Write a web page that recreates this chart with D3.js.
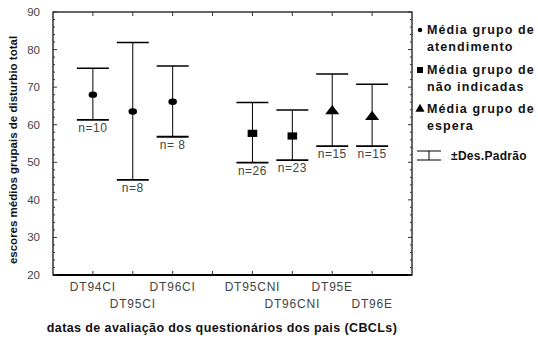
<!DOCTYPE html>
<html>
<head>
<meta charset="utf-8">
<script src="https://cdn.jsdelivr.net/npm/d3@7"></script>
<style>
  body { margin: 0; background: #fff; }
  text { font-family: Arial, "Liberation Sans", sans-serif; }
</style>
</head>
<body>
<div id="chart"></div>
<script>
// categories on the x axis (one empty slot between the CI and CNI groups)
var categories = ["DT94CI", "DT95CI", "DT96CI", "", "DT95CNI", "DT96CNI", "DT95E", "DT96E"]
var barCats = ["DT94CI", "DT95CI", "DT96CI", "DT95CNI", "DT96CNI", "DT95E", "DT96E"]
var means = [68.0, 63.5, 66.1, 57.7, 57.0, 63.6, 62.1]
var upper = [75.0, 81.9, 75.6, 65.9, 63.9, 73.5, 70.8]
var lower = [61.3, 45.3, 56.8, 49.9, 50.6, 54.3, 54.3]
var nLabels = ["n=10", "n=8", "n= 8", "n=26", "n=23", "n=15", "n=15"]
var shapes = ["circle", "circle", "circle", "square", "square", "triangle", "triangle"]
var yTicks = [20, 30, 40, 50, 60, 70, 80, 90]

var width = 538, height = 340
var pLeft = 53, pRight = 412, pTop = 12, pBottom = 275

var svg = d3.select("#chart").append("svg")
    .attr("width", width)
    .attr("height", height)

var x = d3.scalePoint().domain(categories).range([pLeft, pRight]).padding(1)
var y = d3.scaleLinear().domain([20, 90]).range([pBottom, pTop])

// frame
svg.append("rect")
    .attr("x", pLeft).attr("y", pTop)
    .attr("width", pRight - pLeft).attr("height", pBottom - pTop)
    .attr("fill", "none").attr("stroke", "#000").attr("stroke-width", 1.2)
svg.append("line")
    .attr("x1", pLeft).attr("x2", pRight).attr("y1", pBottom).attr("y2", pBottom)
    .attr("stroke", "#000").attr("stroke-width", 2)

// y ticks, inward on both sides, minor every 2
var minor = d3.range(20, 91, 2)
minor.forEach(function (v) {
    var len = (v % 10 === 0) ? 4 : 2
    svg.append("line").attr("x1", pLeft).attr("x2", pLeft + len)
        .attr("y1", y(v)).attr("y2", y(v)).attr("stroke", "#333")
    svg.append("line").attr("x1", pRight).attr("x2", pRight - len)
        .attr("y1", y(v)).attr("y2", y(v)).attr("stroke", "#333")
})
svg.selectAll(".ylab").data(yTicks).enter().append("text")
    .attr("x", pLeft - 13)
    .attr("y", function (d) { return y(d) + 4 })
    .attr("text-anchor", "end")
    .attr("font-size", 11.5)
    .attr("fill", "#444")
    .text(function (d) { return d })

// x ticks top and bottom
categories.forEach(function (c) {
    svg.append("line").attr("x1", x(c)).attr("x2", x(c))
        .attr("y1", pBottom).attr("y2", pBottom - 4).attr("stroke", "#333")
    svg.append("line").attr("x1", x(c)).attr("x2", x(c))
        .attr("y1", pTop).attr("y2", pTop + 4).attr("stroke", "#333")
})
svg.selectAll(".xlab").data(categories).enter().append("text")
    .attr("x", function (d) { return x(d) })
    .attr("y", function (d, i) { return i % 2 === 0 ? 291 : 308 })
    .attr("text-anchor", "middle")
    .attr("font-size", 12)
    .attr("letter-spacing", 0.8)
    .attr("fill", "#444")
    .text(function (d) { return d })

// error bars
var capW = 32
var bars = svg.selectAll(".bar").data(barCats).enter().append("g")
bars.append("line")
    .attr("x1", function (d) { return x(d) }).attr("x2", function (d) { return x(d) })
    .attr("y1", function (d, i) { return y(upper[i]) })
    .attr("y2", function (d, i) { return y(lower[i]) })
    .attr("stroke", "#000").attr("stroke-width", 1)
bars.append("line")
    .attr("x1", function (d) { return x(d) - capW / 2 }).attr("x2", function (d) { return x(d) + capW / 2 })
    .attr("y1", function (d, i) { return y(upper[i]) })
    .attr("y2", function (d, i) { return y(upper[i]) })
    .attr("stroke", "#000").attr("stroke-width", 1.5)
bars.append("line")
    .attr("x1", function (d) { return x(d) - capW / 2 }).attr("x2", function (d) { return x(d) + capW / 2 })
    .attr("y1", function (d, i) { return y(lower[i]) })
    .attr("y2", function (d, i) { return y(lower[i]) })
    .attr("stroke", "#000").attr("stroke-width", 1.8)
bars.append("text")
    .attr("x", function (d) { return x(d) })
    .attr("y", function (d, i) { return y(lower[i]) + 12 })
    .attr("text-anchor", "middle")
    .attr("font-size", 12)
    .attr("letter-spacing", 0.5)
    .attr("fill", "#444")
    .text(function (d, i) { return nLabels[i] })

var symbolType = { circle: d3.symbolCircle, square: d3.symbolSquare, triangle: d3.symbolTriangle }
var symbolSize = { circle: 40, square: 64, triangle: 60 }
bars.append("path")
    .attr("transform", function (d, i) { return "translate(" + x(d) + "," + y(means[i]) + ") scale(1.2,0.9)" })
    .attr("d", function (d, i) { return d3.symbol().type(symbolType[shapes[i]]).size(symbolSize[shapes[i]])() })
    .attr("fill", "#000")

// legend
var legend = [
    { shape: "circle", lines: ["Média grupo de", "atendimento"], y: 34 },
    { shape: "square", lines: ["Média grupo de", "não indicadas"], y: 74 },
    { shape: "triangle", lines: ["Média grupo de", "espera"], y: 113 }
]
var lg = svg.selectAll(".leg").data(legend).enter().append("g")
lg.append("path")
    .attr("transform", function (d) { return "translate(420," + (d.y - 4) + ")" })
    .attr("d", function (d) { return d3.symbol().type(symbolType[d.shape]).size(d.shape === "circle" ? 16 : 36)() })
    .attr("fill", "#000")
lg.each(function (d) {
    var g = d3.select(this)
    d.lines.forEach(function (t, k) {
        g.append("text")
            .attr("x", 427).attr("y", d.y + k * 17)
            .attr("font-size", 12.5).attr("font-weight", "bold")
            .attr("letter-spacing", 1.1)
            .attr("fill", "#111")
            .text(t)
    })
})
svg.append("line").attr("x1", 417).attr("x2", 441).attr("y1", 151).attr("y2", 151).attr("stroke", "#000")
svg.append("line").attr("x1", 417).attr("x2", 441).attr("y1", 160).attr("y2", 160).attr("stroke", "#000")
svg.append("line").attr("x1", 429).attr("x2", 429).attr("y1", 151).attr("y2", 160).attr("stroke", "#000")
svg.append("text").attr("x", 451).attr("y", 160)
    .attr("font-size", 12).attr("font-weight", "bold")
    .attr("letter-spacing", 0.3)
    .attr("fill", "#111")
    .text("±Des.Padrão")

// axis titles
svg.append("text")
    .attr("transform", "translate(17,150) rotate(-90)")
    .attr("text-anchor", "middle")
    .attr("font-size", 11.5).attr("font-weight", "bold")
    .attr("fill", "#111")
    .text("escores médios grupais de disturbio total")
svg.append("text")
    .attr("x", 222).attr("y", 332)
    .attr("text-anchor", "middle")
    .attr("font-size", 12.5).attr("font-weight", "bold")
    .attr("letter-spacing", 0.4)
    .attr("fill", "#111")
    .text("datas de avaliação dos questionários dos pais (CBCLs)")
</script>
</body>
</html>
